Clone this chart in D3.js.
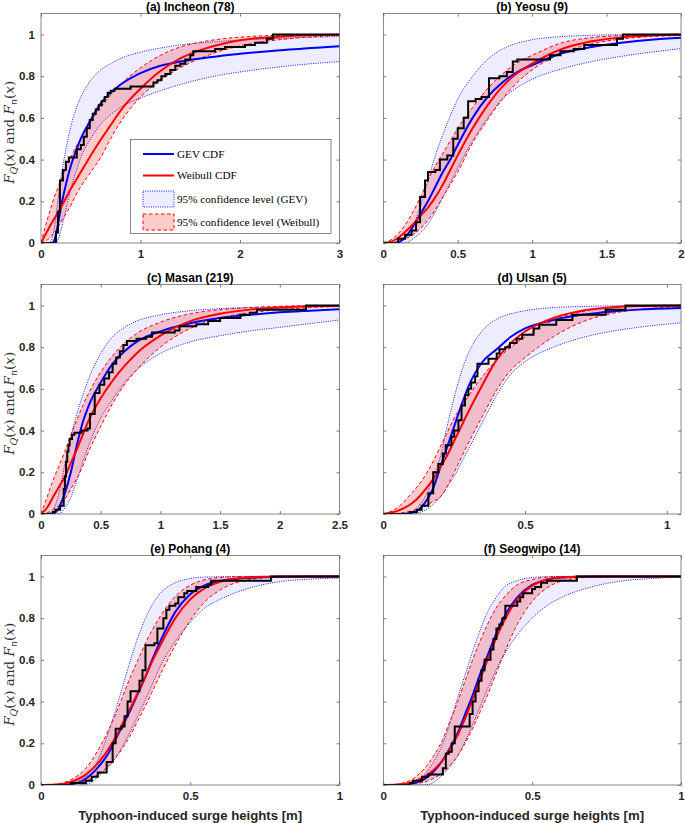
<!DOCTYPE html>
<html><head><meta charset="utf-8">
<script src="https://cdn.jsdelivr.net/npm/d3@7"></script>
<style>
body{margin:0;background:#fff;}
svg{display:block;}
</style></head>
<body>
<svg id="chart" width="685" height="823"></svg>
<script>
// ---------------- DATA ----------------
const titles = ["(a) Incheon (78)", "(b) Yeosu (9)", "(c) Masan (219)", "(d) Ulsan (5)", "(e) Pohang (4)", "(f) Seogwipo (14)"];
const xMaxes = [3, 2, 2.5, 1.05, 1, 1];
const xTicksA = [0, 1, 2, 3];
const xTicksB = [0, 0.5, 1, 1.5, 2];
const xTicksC = [0, 0.5, 1, 1.5, 2, 2.5];
const xTicksD = [0, 0.5, 1];
const xTicksE = [0, 0.5, 1];
const xTicksF = [0, 0.5, 1];
const yTicks = [0, 0.2, 0.4, 0.6, 0.8, 1];
const legendLabels = ["GEV CDF", "Weibull CDF", "95% confidence level (GEV)", "95% confidence level (Weibull)"];
const xLabel = "Typhoon-induced surge heights [m]";

// (a) Incheon
const xsA    = [0, 0.05, 0.1, 0.125, 0.15, 0.175, 0.2, 0.25, 0.3, 0.35, 0.4, 0.5, 0.6, 0.7, 0.8, 1.0, 1.2, 1.4, 1.6, 1.8, 2.0, 2.5, 3.0];
const gevA   = [0, 0, 0, 0.005, 0.04, 0.1, 0.17, 0.28, 0.37, 0.44, 0.5, 0.59, 0.67, 0.72, 0.76, 0.815, 0.85, 0.87, 0.885, 0.897, 0.907, 0.928, 0.944];
const wblA   = [0, 0.045, 0.09, 0.11, 0.13, 0.15, 0.17, 0.215, 0.26, 0.3, 0.34, 0.42, 0.495, 0.565, 0.635, 0.74, 0.825, 0.885, 0.925, 0.952, 0.972, 0.992, 0.998];
const gevHiA = [0, 0, 0.01, 0.05, 0.13, 0.22, 0.31, 0.45, 0.56, 0.64, 0.7, 0.78, 0.83, 0.86, 0.885, 0.915, 0.935, 0.95, 0.96, 0.967, 0.973, 0.983, 0.99];
const gevLoA = [0, 0, 0, 0, 0, 0.02, 0.06, 0.16, 0.26, 0.34, 0.41, 0.5, 0.57, 0.615, 0.65, 0.695, 0.73, 0.76, 0.785, 0.805, 0.82, 0.85, 0.87];
const wblHiA = [0, 0.09, 0.17, 0.21, 0.24, 0.27, 0.3, 0.36, 0.41, 0.46, 0.5, 0.58, 0.65, 0.71, 0.76, 0.84, 0.9, 0.94, 0.963, 0.978, 0.987, 0.997, 1];
const wblLoA = [0, 0.01, 0.03, 0.045, 0.06, 0.08, 0.1, 0.14, 0.18, 0.23, 0.27, 0.34, 0.41, 0.5, 0.58, 0.7, 0.78, 0.84, 0.885, 0.92, 0.945, 0.98, 0.995];
const empXA  = [0.15, 0.17, 0.19, 0.22, 0.25, 0.28, 0.36, 0.4, 0.43, 0.46, 0.49, 0.52, 0.55, 0.58, 0.61, 0.64, 0.67, 0.7, 0.74, 0.9, 1.13, 1.17, 1.21, 1.25, 1.3, 1.35, 1.4, 1.45, 1.5, 1.53, 1.75, 1.85, 2.05, 2.15, 2.27, 2.33];
const empYA  = [0.05, 0.15, 0.3, 0.35, 0.39, 0.41, 0.45, 0.47, 0.51, 0.55, 0.59, 0.62, 0.64, 0.66, 0.68, 0.7, 0.72, 0.73, 0.74, 0.75, 0.77, 0.78, 0.8, 0.81, 0.83, 0.85, 0.86, 0.88, 0.9, 0.92, 0.93, 0.94, 0.95, 0.96, 0.98, 1.0];

// (b) Yeosu
const xsB    = [0, 0.05, 0.1, 0.15, 0.2, 0.25, 0.3, 0.35, 0.4, 0.45, 0.5, 0.6, 0.7, 0.8, 0.9, 1.0, 1.2, 1.4, 1.6, 1.8, 2.0];
const gevB   = [0, 0, 0.003, 0.03, 0.08, 0.14, 0.2, 0.27, 0.34, 0.4, 0.47, 0.6, 0.7, 0.77, 0.82, 0.853, 0.91, 0.94, 0.96, 0.975, 0.984];
const wblB   = [0, 0.005, 0.025, 0.055, 0.09, 0.13, 0.17, 0.22, 0.28, 0.35, 0.42, 0.55, 0.66, 0.75, 0.815, 0.86, 0.93, 0.967, 0.986, 0.995, 0.998];
const gevHiB = [0, 0, 0.005, 0.03, 0.08, 0.18, 0.3, 0.42, 0.52, 0.61, 0.69, 0.8, 0.88, 0.93, 0.958, 0.975, 0.99, 0.996, 0.999, 1, 1];
const gevLoB = [0, 0, 0, 0, 0.02, 0.05, 0.09, 0.15, 0.22, 0.29, 0.36, 0.49, 0.6, 0.69, 0.745, 0.785, 0.835, 0.87, 0.895, 0.915, 0.932];
const wblHiB = [0, 0.015, 0.045, 0.09, 0.15, 0.22, 0.3, 0.37, 0.43, 0.49, 0.55, 0.65, 0.74, 0.81, 0.865, 0.9, 0.96, 0.985, 0.995, 0.999, 1];
const wblLoB = [0, 0.001, 0.007, 0.02, 0.04, 0.07, 0.11, 0.16, 0.22, 0.28, 0.34, 0.48, 0.59, 0.69, 0.77, 0.83, 0.91, 0.955, 0.978, 0.99, 0.995];
const empXB  = [0.1, 0.146, 0.19, 0.22, 0.247, 0.28, 0.3, 0.35, 0.38, 0.43, 0.47, 0.5, 0.54, 0.57, 0.62, 0.66, 0.71, 0.78, 0.83, 0.87, 0.9, 1.12, 1.19, 1.28, 1.35, 1.57, 1.61];
const empYB  = [0.02, 0.04, 0.06, 0.1, 0.22, 0.3, 0.34, 0.35, 0.4, 0.42, 0.5, 0.55, 0.6, 0.68, 0.69, 0.7, 0.79, 0.8, 0.82, 0.87, 0.88, 0.9, 0.92, 0.93, 0.95, 0.98, 1.0];

// (c) Masan
const xsC    = [0, 0.05, 0.1, 0.15, 0.2, 0.25, 0.3, 0.35, 0.4, 0.5, 0.6, 0.7, 0.8, 1.0, 1.25, 1.5, 1.75, 2.0, 2.25, 2.5];
const gevC   = [0, 0, 0.002, 0.03, 0.1, 0.2, 0.33, 0.44, 0.52, 0.63, 0.72, 0.78, 0.825, 0.876, 0.915, 0.94, 0.955, 0.967, 0.975, 0.982];
const wblC   = [0, 0.03, 0.08, 0.13, 0.18, 0.245, 0.31, 0.38, 0.45, 0.555, 0.64, 0.71, 0.77, 0.855, 0.925, 0.96, 0.98, 0.99, 0.996, 0.999];
const gevHiC = [0, 0, 0.02, 0.1, 0.24, 0.37, 0.48, 0.57, 0.65, 0.77, 0.85, 0.895, 0.925, 0.955, 0.975, 0.985, 0.99, 0.993, 0.995, 0.996];
const gevLoC = [0, 0, 0, 0, 0.03, 0.08, 0.16, 0.25, 0.33, 0.46, 0.55, 0.63, 0.69, 0.77, 0.825, 0.855, 0.878, 0.895, 0.913, 0.93];
const wblHiC = [0, 0.08, 0.16, 0.23, 0.3, 0.38, 0.45, 0.52, 0.58, 0.68, 0.76, 0.82, 0.865, 0.92, 0.96, 0.98, 0.99, 0.996, 0.999, 1];
const wblLoC = [0, 0.005, 0.02, 0.04, 0.07, 0.12, 0.17, 0.23, 0.3, 0.42, 0.53, 0.62, 0.69, 0.8, 0.89, 0.94, 0.965, 0.98, 0.99, 0.995];
const empXC  = [0.1, 0.12, 0.16, 0.19, 0.2, 0.21, 0.22, 0.23, 0.24, 0.26, 0.28, 0.34, 0.39, 0.41, 0.45, 0.49, 0.53, 0.57, 0.6, 0.63, 0.66, 0.69, 0.72, 0.8, 0.88, 0.93, 1.12, 1.16, 1.3, 1.4, 1.5, 1.67, 1.75, 1.81, 2.22];
const empYC  = [0.01, 0.02, 0.04, 0.12, 0.18, 0.25, 0.3, 0.33, 0.36, 0.38, 0.39, 0.4, 0.41, 0.48, 0.58, 0.62, 0.65, 0.68, 0.72, 0.75, 0.78, 0.81, 0.83, 0.84, 0.85, 0.87, 0.88, 0.9, 0.91, 0.925, 0.94, 0.955, 0.965, 0.98, 1.0];

// (d) Ulsan
const xsD    = [0, 0.05, 0.1, 0.125, 0.15, 0.175, 0.2, 0.225, 0.25, 0.275, 0.3, 0.35, 0.4, 0.45, 0.5, 0.6, 0.7, 0.8, 0.9, 1.05];
const gevD   = [0, 0, 0.005, 0.02, 0.06, 0.12, 0.22, 0.32, 0.42, 0.52, 0.61, 0.73, 0.79, 0.85, 0.89, 0.93, 0.955, 0.97, 0.98, 0.988];
const wblD   = [0, 0.015, 0.05, 0.08, 0.12, 0.165, 0.22, 0.28, 0.35, 0.42, 0.49, 0.62, 0.74, 0.82, 0.875, 0.94, 0.975, 0.99, 0.997, 1];
const gevHiD = [0, 0, 0.01, 0.04, 0.09, 0.17, 0.27, 0.42, 0.56, 0.68, 0.77, 0.88, 0.935, 0.96, 0.975, 0.99, 0.995, 0.998, 0.999, 1];
const gevLoD = [0, 0, 0, 0.005, 0.02, 0.045, 0.08, 0.13, 0.18, 0.245, 0.31, 0.44, 0.57, 0.67, 0.73, 0.8, 0.845, 0.875, 0.895, 0.917];
const wblHiD = [0, 0.03, 0.1, 0.14, 0.19, 0.25, 0.32, 0.39, 0.46, 0.515, 0.565, 0.66, 0.74, 0.8, 0.85, 0.93, 0.97, 0.99, 0.997, 1];
const wblLoD = [0, 0.003, 0.015, 0.025, 0.04, 0.06, 0.08, 0.13, 0.2, 0.27, 0.34, 0.47, 0.595, 0.69, 0.75, 0.85, 0.92, 0.96, 0.98, 0.995];
const empXD  = [0.094, 0.118, 0.135, 0.159, 0.176, 0.194, 0.21, 0.22, 0.24, 0.25, 0.265, 0.276, 0.288, 0.3, 0.31, 0.324, 0.332, 0.371, 0.4, 0.41, 0.43, 0.447, 0.47, 0.49, 0.53, 0.55, 0.61, 0.667, 0.784, 0.854];
const empYD  = [0.01, 0.02, 0.04, 0.1, 0.2, 0.24, 0.29, 0.33, 0.37, 0.4, 0.45, 0.52, 0.57, 0.6, 0.63, 0.66, 0.72, 0.745, 0.77, 0.79, 0.8, 0.82, 0.84, 0.86, 0.89, 0.907, 0.93, 0.955, 0.98, 1.0];

// (e) Pohang
const xsE    = [0, 0.05, 0.1, 0.15, 0.2, 0.225, 0.25, 0.275, 0.3, 0.325, 0.35, 0.375, 0.4, 0.45, 0.5, 0.55, 0.6, 0.7, 0.8, 0.9, 1.0];
const gevE   = [0, 0, 0.003, 0.03, 0.1, 0.15, 0.22, 0.29, 0.36, 0.44, 0.52, 0.61, 0.69, 0.83, 0.915, 0.958, 0.978, 0.994, 0.998, 1, 1];
const wblE   = [0, 0.002, 0.015, 0.05, 0.12, 0.17, 0.23, 0.3, 0.37, 0.445, 0.52, 0.6, 0.67, 0.8, 0.89, 0.945, 0.975, 0.996, 1, 1, 1];
const gevHiE = [0, 0, 0.01, 0.04, 0.15, 0.25, 0.36, 0.48, 0.6, 0.71, 0.8, 0.87, 0.92, 0.97, 0.99, 0.997, 0.999, 1, 1, 1, 1];
const gevLoE = [0, 0, 0, 0.003, 0.05, 0.085, 0.13, 0.19, 0.26, 0.335, 0.41, 0.49, 0.57, 0.69, 0.78, 0.85, 0.89, 0.945, 0.975, 0.987, 0.992];
const wblHiE = [0, 0.004, 0.025, 0.08, 0.19, 0.26, 0.34, 0.43, 0.52, 0.6, 0.68, 0.75, 0.81, 0.905, 0.958, 0.985, 0.995, 1, 1, 1, 1];
const wblLoE = [0, 0, 0.005, 0.02, 0.06, 0.09, 0.13, 0.18, 0.24, 0.31, 0.38, 0.455, 0.53, 0.67, 0.79, 0.88, 0.935, 0.985, 0.997, 1, 1];
const empXE  = [0.1, 0.15, 0.17, 0.19, 0.22, 0.24, 0.25, 0.27, 0.28, 0.29, 0.3, 0.33, 0.34, 0.35, 0.38, 0.39, 0.41, 0.42, 0.43, 0.45, 0.46, 0.48, 0.49, 0.52, 0.56, 0.57, 0.77];
const empYE  = [0.01, 0.02, 0.04, 0.06, 0.11, 0.2, 0.27, 0.28, 0.33, 0.4, 0.45, 0.5, 0.55, 0.67, 0.68, 0.75, 0.8, 0.84, 0.86, 0.87, 0.9, 0.92, 0.93, 0.95, 0.96, 0.98, 1.0];

// (f) Seogwipo
const xsF    = [0, 0.05, 0.1, 0.15, 0.2, 0.225, 0.25, 0.275, 0.3, 0.325, 0.35, 0.375, 0.4, 0.45, 0.5, 0.55, 0.6, 0.7, 0.8, 0.9, 1.0];
const gevF   = [0, 0, 0.008, 0.04, 0.12, 0.18, 0.25, 0.34, 0.43, 0.53, 0.62, 0.71, 0.79, 0.9, 0.96, 0.985, 0.995, 1, 1, 1, 1];
const wblF   = [0, 0.002, 0.015, 0.05, 0.12, 0.175, 0.24, 0.32, 0.41, 0.505, 0.6, 0.69, 0.77, 0.89, 0.955, 0.985, 0.996, 1, 1, 1, 1];
const gevHiF = [0, 0, 0.01, 0.07, 0.2, 0.3, 0.42, 0.53, 0.64, 0.74, 0.83, 0.89, 0.94, 0.98, 0.995, 0.999, 1, 1, 1, 1, 1];
const gevLoF = [0, 0, 0, 0.002, 0.05, 0.09, 0.14, 0.21, 0.29, 0.375, 0.46, 0.54, 0.61, 0.72, 0.8, 0.86, 0.9, 0.95, 0.978, 0.99, 0.997];
const wblHiF = [0, 0.005, 0.03, 0.1, 0.22, 0.31, 0.4, 0.5, 0.6, 0.69, 0.77, 0.84, 0.89, 0.96, 0.985, 0.997, 1, 1, 1, 1, 1];
const wblLoF = [0, 0, 0.005, 0.02, 0.06, 0.095, 0.14, 0.2, 0.27, 0.35, 0.43, 0.52, 0.61, 0.77, 0.88, 0.945, 0.978, 0.997, 1, 1, 1];
const empXF  = [0.09, 0.1, 0.13, 0.15, 0.2, 0.21, 0.22, 0.23, 0.24, 0.29, 0.3, 0.31, 0.32, 0.33, 0.34, 0.36, 0.37, 0.38, 0.39, 0.4, 0.41, 0.45, 0.46, 0.47, 0.5, 0.51, 0.53, 0.55, 0.65];
const empYF  = [0.01, 0.02, 0.04, 0.05, 0.08, 0.15, 0.16, 0.2, 0.28, 0.34, 0.4, 0.45, 0.5, 0.55, 0.6, 0.65, 0.7, 0.75, 0.77, 0.8, 0.86, 0.88, 0.9, 0.92, 0.94, 0.95, 0.97, 0.98, 1.0];

// ---------------- DRAW ----------------
const panels = [
  {xs: xsA, gev: gevA, wbl: wblA, gH: gevHiA, gL: gevLoA, wH: wblHiA, wL: wblLoA, ex: empXA, ey: empYA, ticks: xTicksA},
  {xs: xsB, gev: gevB, wbl: wblB, gH: gevHiB, gL: gevLoB, wH: wblHiB, wL: wblLoB, ex: empXB, ey: empYB, ticks: xTicksB},
  {xs: xsC, gev: gevC, wbl: wblC, gH: gevHiC, gL: gevLoC, wH: wblHiC, wL: wblLoC, ex: empXC, ey: empYC, ticks: xTicksC},
  {xs: xsD, gev: gevD, wbl: wblD, gH: gevHiD, gL: gevLoD, wH: wblHiD, wL: wblLoD, ex: empXD, ey: empYD, ticks: xTicksD},
  {xs: xsE, gev: gevE, wbl: wblE, gH: gevHiE, gL: gevLoE, wH: wblHiE, wL: wblLoE, ex: empXE, ey: empYE, ticks: xTicksE},
  {xs: xsF, gev: gevF, wbl: wblF, gH: gevHiF, gL: gevLoF, wH: wblHiF, wL: wblLoF, ex: empXF, ey: empYF, ticks: xTicksF}
];

const svg = d3.select("#chart");
const colX = [[41, 339.5], [383.3, 681]];
const rowBottom = [243, 514, 785];
const plotH = 229.4;
const axisColor = "#262626";
const sansBold = "'Liberation Sans', Arial, Helvetica, sans-serif";
const serif = "'Liberation Serif', 'Times New Roman', serif";
const mathSerif = "'DejaVu Serif', 'Liberation Serif', serif";
const fmt = d3.format("~g");

panels.forEach((p, i) => {
  const col = i % 2, row = Math.floor(i / 2);
  const [x0, x1] = colX[col];
  const yb = rowBottom[row], yt = yb - plotH;
  const x = d3.scaleLinear().domain([0, xMaxes[i]]).range([x0, x1]);
  const y = d3.scaleLinear().domain([0, 1.1]).range([yb, yt]);
  const g = svg.append("g");

  const clipId = "clip" + i;
  svg.append("clipPath").attr("id", clipId).append("rect")
    .attr("x", x0).attr("y", yt).attr("width", x1 - x0).attr("height", yb - yt);
  const plot = g.append("g").attr("clip-path", `url(#${clipId})`);

  const idx = d3.range(p.xs.length);
  const area = (lo, hi) => d3.area().curve(d3.curveMonotoneX)
      .x(j => x(p.xs[j])).y0(j => y(lo[j])).y1(j => y(hi[j]))(idx);
  const line = (arr) => d3.line().curve(d3.curveMonotoneX)
      .x(j => x(p.xs[j])).y(j => y(arr[j]))(idx);

  // GEV CI
  plot.append("path").attr("d", area(p.gL, p.gH)).attr("fill", "#0000ff").attr("fill-opacity", 0.07);
  [p.gL, p.gH].forEach(arr => plot.append("path").attr("d", line(arr))
    .attr("fill", "none").attr("stroke", "#0000ff").attr("stroke-width", 0.9).attr("stroke-dasharray", "1,1.3"));
  // Weibull CI
  plot.append("path").attr("d", area(p.wL, p.wH)).attr("fill", "#ff0000").attr("fill-opacity", 0.2);
  [p.wL, p.wH].forEach(arr => plot.append("path").attr("d", line(arr))
    .attr("fill", "none").attr("stroke", "#ff0000").attr("stroke-width", 1).attr("stroke-dasharray", "3.5,2.5"));
  // CDFs
  plot.append("path").attr("d", line(p.gev)).attr("fill", "none").attr("stroke", "#0000ff").attr("stroke-width", 2);
  plot.append("path").attr("d", line(p.wbl)).attr("fill", "none").attr("stroke", "#ff0000").attr("stroke-width", 2);
  // Empirical
  const pts = [[0, 0]].concat(p.ex.map((v, k) => [v, p.ey[k]]));
  pts.push([xMaxes[i], p.ey[p.ey.length - 1]]);
  plot.append("path").attr("d", d3.line().curve(d3.curveStepAfter).x(d => x(d[0])).y(d => y(d[1]))(pts))
    .attr("fill", "none").attr("stroke", "#000").attr("stroke-width", 2);

  // Axes (box, inward ticks both sides)
  const tl = 3;
  const axB = d3.axisBottom(x).tickValues(p.ticks).tickSize(-tl).tickPadding(7).tickFormat(fmt);
  const axT = d3.axisTop(x).tickValues(p.ticks).tickSize(-tl).tickFormat("");
  const axL = d3.axisLeft(y).tickValues(yTicks).tickSize(-tl).tickPadding(6).tickFormat(col === 0 ? fmt : "");
  const axR = d3.axisRight(y).tickValues(yTicks).tickSize(-tl).tickFormat("");
  const addAxis = (ax, tr) => {
    const a = g.append("g").attr("transform", tr).call(ax);
    a.select(".domain").remove();
    a.selectAll(".tick line").attr("stroke", axisColor).attr("stroke-width", 0.6);
    a.selectAll("text").attr("fill", axisColor).attr("font-family", sansBold)
      .attr("font-weight", "bold").attr("font-size", "11.5px");
    return a;
  };
  addAxis(axB, `translate(0,${yb})`);
  addAxis(axT, `translate(0,${yt})`);
  addAxis(axL, `translate(${x0},0)`);
  addAxis(axR, `translate(${x1},0)`);
  g.append("rect").attr("x", x0).attr("y", yt).attr("width", x1 - x0).attr("height", yb - yt)
    .attr("fill", "none").attr("stroke", "#555").attr("stroke-width", 0.7);

  // Title
  g.append("text").attr("x", (x0 + x1) / 2).attr("y", yt - 3).attr("text-anchor", "middle")
    .attr("font-family", sansBold).attr("font-weight", "bold").attr("font-size", "12px")
    .attr("fill", "#000").text(titles[i]);

  // Y label
  if (col === 0) {
    const cy = (yt + yb) / 2 + 4;
    const t = g.append("text").attr("transform", `translate(14,${cy}) rotate(-90)`)
      .attr("text-anchor", "middle").attr("font-family", mathSerif).attr("font-size", "13.5px").attr("fill", "#333");
    t.append("tspan").attr("font-style", "italic").text("F");
    t.append("tspan").attr("font-style", "italic").attr("font-size", "9.5px").attr("dy", 2.5).text("Q");
    t.append("tspan").attr("dy", -2.5).text("(");
    t.append("tspan").attr("font-style", "italic").text("x");
    t.append("tspan").text(") and ");
    t.append("tspan").attr("font-style", "italic").text("F");
    t.append("tspan").attr("font-style", "italic").attr("font-size", "9.5px").attr("dy", 2.5).text("n");
    t.append("tspan").attr("dy", -2.5).text("(");
    t.append("tspan").attr("font-style", "italic").text("x");
    t.append("tspan").text(")");
  }
  // X label
  if (row === 2) {
    g.append("text").attr("x", (x0 + x1) / 2).attr("y", 820).attr("text-anchor", "middle")
      .attr("font-family", sansBold).attr("font-weight", "bold").attr("font-size", "13.2px")
      .attr("fill", "#262626").text(xLabel);
  }

  // Legend in panel (a)
  if (i === 0) {
    const lg = g.append("g");
    lg.append("rect").attr("x", 130.5).attr("y", 139.5).attr("width", 200.5).attr("height", 94)
      .attr("fill", "#fff").attr("stroke", "#555").attr("stroke-width", 0.7);
    const rowsY = [154, 175.5, 199, 222];
    const sx0 = 143, sx1 = 174;
    lg.append("line").attr("x1", sx0).attr("x2", sx1).attr("y1", rowsY[0]).attr("y2", rowsY[0])
      .attr("stroke", "#0000ff").attr("stroke-width", 2);
    lg.append("line").attr("x1", sx0).attr("x2", sx1).attr("y1", rowsY[1]).attr("y2", rowsY[1])
      .attr("stroke", "#ff0000").attr("stroke-width", 2);
    lg.append("rect").attr("x", sx0).attr("y", rowsY[2] - 8).attr("width", sx1 - sx0).attr("height", 16)
      .attr("fill", "#0000ff").attr("fill-opacity", 0.07).attr("stroke", "#0000ff").attr("stroke-width", 0.9).attr("stroke-dasharray", "1,1.3");
    lg.append("rect").attr("x", sx0).attr("y", rowsY[3] - 8).attr("width", sx1 - sx0).attr("height", 16)
      .attr("fill", "#ff0000").attr("fill-opacity", 0.2).attr("stroke", "#ff0000").attr("stroke-width", 1).attr("stroke-dasharray", "3.5,2.5");
    legendLabels.forEach((lab, k) => {
      lg.append("text").attr("x", 177).attr("y", rowsY[k] + 3.8).attr("font-family", serif)
        .attr("font-size", "11.2px").attr("fill", "#000").text(lab);
    });
  }
});
</script>
</body></html>
